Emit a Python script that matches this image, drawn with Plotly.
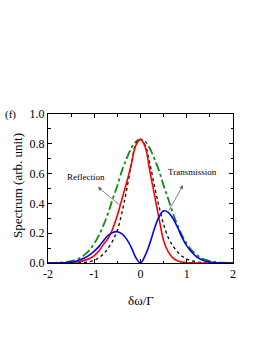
import plotly.graph_objects as go

x_vals = [round(-2.0 + 0.1 * i, 1) for i in range(41)]

# Total (green dash-dot)
green_vals = [0.0, 0.001, 0.002, 0.004, 0.007, 0.013, 0.022, 0.036, 0.058, 0.088,
              0.13, 0.185, 0.254, 0.335, 0.43, 0.52, 0.62, 0.70, 0.77, 0.815,
              0.83,
              0.815, 0.77, 0.70, 0.62, 0.52, 0.43, 0.335, 0.254, 0.185, 0.13,
              0.088, 0.058, 0.036, 0.022, 0.013, 0.007, 0.004, 0.002, 0.001, 0.0]

# Reflection-type (red solid)
red_vals = [0.0, 0.0, 0.0, 0.0, 0.001, 0.002, 0.005, 0.01, 0.018, 0.03,
            0.05, 0.08, 0.125, 0.165, 0.23, 0.32, 0.43, 0.54, 0.66, 0.79,
            0.83,
            0.78, 0.62, 0.46, 0.30, 0.15, 0.075, 0.035, 0.015, 0.006, 0.002,
            0.001, 0.0, 0.0, 0.0, 0.0, 0.0, 0.0, 0.0, 0.0, 0.0]

# Black dotted
black_vals = [0.0, 0.0, 0.0, 0.0, 0.0, 0.0, 0.001, 0.002, 0.004, 0.009,
              0.018, 0.035, 0.06, 0.10, 0.15, 0.22, 0.34, 0.49, 0.66, 0.80,
              0.83,
              0.79, 0.67, 0.52, 0.38, 0.26, 0.17, 0.115, 0.075, 0.045, 0.027,
              0.015, 0.008, 0.004, 0.002, 0.001, 0.0, 0.0, 0.0, 0.0, 0.0]

# Blue solid (double peak)
blue_vals = [0.0, 0.0, 0.0, 0.001, 0.003, 0.006, 0.012, 0.022, 0.035, 0.055,
             0.08, 0.11, 0.15, 0.185, 0.205, 0.21, 0.195, 0.16, 0.105, 0.035,
             0.0,
             0.05, 0.13, 0.23, 0.31, 0.35, 0.34, 0.30, 0.24, 0.17, 0.115,
             0.075, 0.045, 0.025, 0.013, 0.006, 0.003, 0.001, 0.0, 0.0, 0.0]

x_ticks = [-2, -1, 0, 1, 2]
x_tick_text = ["-2", "-1", "0", "1", "2"]
y_ticks = [0.0, 0.2, 0.4, 0.6, 0.8, 1.0]
y_tick_text = ["0.0", "0.2", "0.4", "0.6", "0.8", "1.0"]

FONT = "Liberation Serif"
L, R, T, B = 48, 37, 114, 86
PW, PH = 270 - L - R, 349 - T - B

fig = go.Figure()
fig.add_trace(go.Scatter(x=x_vals, y=green_vals, mode="lines",
                         line=dict(color="#138a13", width=1.8, dash="dashdot", shape="spline")))
fig.add_trace(go.Scatter(x=x_vals, y=black_vals, mode="lines",
                         line=dict(color="black", width=1.3, dash="dot", shape="spline")))
fig.add_trace(go.Scatter(x=x_vals, y=red_vals, mode="lines",
                         line=dict(color="#ff0000", width=1.6, shape="spline")))
fig.add_trace(go.Scatter(x=x_vals, y=blue_vals, mode="lines",
                         line=dict(color="#0000ff", width=1.6, shape="spline")))

axis_common = dict(showline=True, linecolor="black", linewidth=1, mirror="ticks",
                   ticks="inside", ticklen=4, tickwidth=1, tickcolor="black",
                   showgrid=False, zeroline=False, automargin=False,
                   tickfont=dict(family=FONT, size=12, color="black"))

fig.update_xaxes(range=[-2, 2], tickvals=x_ticks, ticktext=x_tick_text,
                 minor=dict(ticks="inside", ticklen=2.5, dtick=0.5, tick0=0, tickcolor="black"),
                 **axis_common)
fig.update_yaxes(range=[0, 1.0], tickvals=y_ticks, ticktext=y_tick_text,
                 minor=dict(ticks="inside", ticklen=2.5, dtick=0.1, tick0=0, tickcolor="black"),
                 **axis_common)

def px_x(p):
    return (p - L) / PW

def px_y(p):
    return (349 - B - p) / PH

# Axis titles
fig.add_annotation(x=px_x(141), y=px_y(300), xref="paper", yref="paper", text="δω/Γ",
                   showarrow=False, xanchor="center", yanchor="middle",
                   font=dict(family=FONT, size=13, color="black"))
fig.add_annotation(x=px_x(17), y=px_y(186), xref="paper", yref="paper",
                   text="Spectrum (arb. unit)", textangle=-90,
                   showarrow=False, xanchor="center", yanchor="middle",
                   font=dict(family=FONT, size=13, color="black"))

# Arrows
fig.add_annotation(x=-0.924, y=0.511, ax=-0.405, ay=0.377, axref="x", ayref="y",
                   xref="x", yref="y", text="", showarrow=True, arrowhead=2,
                   arrowsize=1, arrowwidth=0.8, arrowcolor="#666666")
fig.add_annotation(x=0.922, y=0.523, ax=0.597, ay=0.343, axref="x", ayref="y",
                   xref="x", yref="y", text="", showarrow=True, arrowhead=2,
                   arrowsize=1, arrowwidth=0.8, arrowcolor="#666666")
fig.add_annotation(x=-1.17, y=0.576, xref="x", yref="y", text="Reflection", showarrow=False,
                   font=dict(family=FONT, size=9, color="black"))
fig.add_annotation(x=1.13, y=0.612, xref="x", yref="y", text="Transmission", showarrow=False,
                   font=dict(family=FONT, size=9, color="black"))
fig.add_annotation(x=px_x(10), y=px_y(114), xref="paper", yref="paper", text="(f)",
                   showarrow=False, xanchor="center", yanchor="middle",
                   font=dict(family=FONT, size=11, color="black"))

fig.update_layout(width=270, height=349, margin=dict(l=L, r=R, t=T, b=B),
                  paper_bgcolor="white", plot_bgcolor="white", showlegend=False)

fig.write_html("out.html", config={"displayModeBar": False},
               post_script="document.body.style.margin='0';document.body.style.overflow='hidden';")
